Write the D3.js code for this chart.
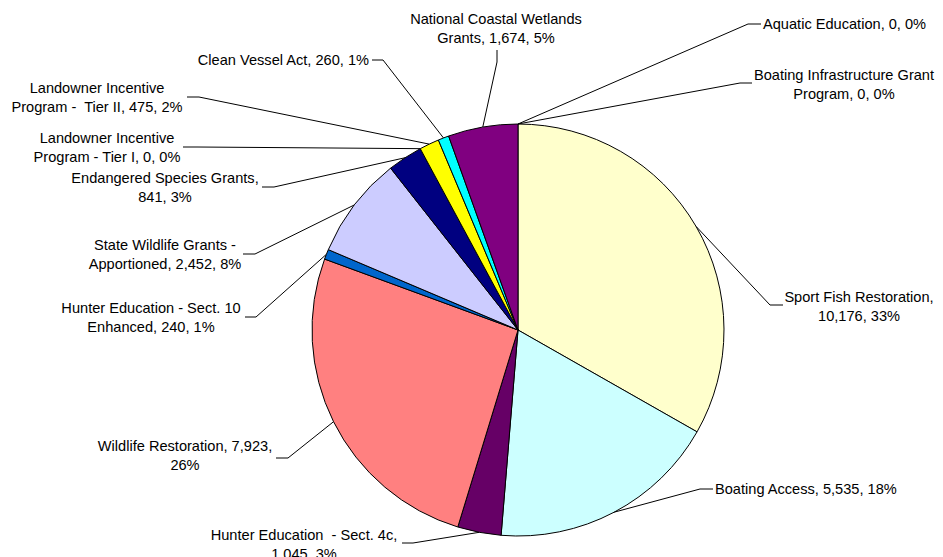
<!DOCTYPE html>
<html>
<head>
<meta charset="utf-8">
<script src="https://cdn.jsdelivr.net/npm/d3@7"></script>
<style>
	body { margin: 0; background: #fff; }
	text { font-family: Arial, "Liberation Sans", sans-serif; font-size: 14.6px; fill: #000; white-space: pre; }
</style>
</head>
<body>
<div id="chart"></div>
<script>
// programs, in drawing order (clockwise from 12 o'clock)
var programs = [
	"Sport Fish Restoration",
	"Boating Access",
	"Hunter Education  - Sect. 4c",
	"Wildlife Restoration",
	"Hunter Education - Sect. 10 Enhanced",
	"State Wildlife Grants - Apportioned",
	"Endangered Species Grants",
	"Landowner Incentive Program - Tier I",
	"Landowner Incentive Program -  Tier II",
	"Clean Vessel Act",
	"National Coastal Wetlands Grants",
	"Aquatic Education",
	"Boating Infrastructure Grant Program"
]
var amounts = [10176, 5535, 1045, 7923, 240, 2452, 841, 0, 475, 260, 1674, 0, 0]
var colors = ["#FFFFCC", "#CCFFFF", "#660066", "#FF8080", "#0066CC", "#CCCCFF",
	"#000080", "#FF00FF", "#FFFF00", "#00FFFF", "#800080", "#FFFFFF", "#FFFFFF"]

// label placement: text x,y (first line middle), anchor, words on first line,
// elbow of the leader line and its end next to the text
var labelLayout = [
	{ x: 859, y: 297, anchor: "middle", brk: 3, elbow: [770, 305], end: [783, 305] },
	{ x: 715, y: 489, anchor: "start", brk: 0, elbow: [700, 489], end: [713, 489] },
	{ x: 304, y: 535, anchor: "middle", brk: 6, elbow: [413, 543], end: [402, 543] },
	{ x: 185, y: 446, anchor: "middle", brk: 3, elbow: [288, 458], end: [276, 458] },
	{ x: 151, y: 308, anchor: "middle", brk: 5, elbow: [256, 317], end: [245, 317] },
	{ x: 165, y: 245, anchor: "middle", brk: 4, elbow: [255, 254], end: [243, 254] },
	{ x: 165, y: 178, anchor: "middle", brk: 3, elbow: [274, 187], end: [262, 187] },
	{ x: 107, y: 138, anchor: "middle", brk: 2, elbow: [197, 147], end: [183, 147] },
	{ x: 97, y: 88, anchor: "middle", brk: 2, elbow: [199, 97], end: [187, 97] },
	{ x: 369, y: 60, anchor: "end", brk: 0, elbow: [383, 60], end: [372, 60] },
	{ x: 496, y: 19, anchor: "middle", brk: 3, elbow: [497, 62], end: [497, 50] },
	{ x: 763, y: 24, anchor: "start", brk: 0, elbow: [748, 24], end: [761, 24] },
	{ x: 844, y: 75, anchor: "middle", brk: 3, elbow: [740, 83], end: [752, 83] }
]

var width = 943
var height = 557
var cx = 518, cy = 330, radius = 206
var lineHeight = 18.5

var svg = d3.select("#chart")
	.append("svg")
	.attr("width", width)
	.attr("height", height)

var total = d3.sum(amounts)
var fmt = d3.format(",")

var data = programs.map(function(p, i) {
	return { name: p, value: amounts[i], color: colors[i], layout: labelLayout[i] }
})

var pie = d3.pie()
	.sort(null)
	.value(function(d) { return d.value })

var arc = d3.arc()
	.innerRadius(0)
	.outerRadius(radius)

var edge = d3.arc()
	.innerRadius(radius)
	.outerRadius(radius)

var arcs = pie(data)

var g = svg.append("g")
	.attr("transform", "translate(" + cx + "," + cy + ")")

g.selectAll(".slice")
	.data(arcs.filter(function(d) { return d.data.value > 0 }))
	.enter().append("path")
	.attr("class", "slice")
	.attr("d", arc)
	.attr("fill", function(d) { return d.data.color })
	.attr("stroke", "#000")
	.attr("stroke-width", 1)
	.attr("stroke-linejoin", "round")

// leader lines
svg.selectAll(".leader")
	.data(arcs)
	.enter().append("polyline")
	.attr("class", "leader")
	.attr("fill", "none")
	.attr("stroke", "#000")
	.attr("stroke-width", 1)
	.attr("points", function(d) {
		var c = edge.centroid(d)
		var L = d.data.layout
		return [[cx + c[0], cy + c[1]], L.elbow, L.end].map(function(p) { return p.join(",") }).join(" ")
	})

// labels
var labels = svg.selectAll(".label")
	.data(arcs)
	.enter().append("text")
	.attr("class", "label")
	.attr("text-anchor", function(d) { return d.data.layout.anchor })

labels.each(function(d) {
	var L = d.data.layout
	var pct = Math.round(d.data.value / total * 100)
	var str = d.data.name + ", " + fmt(d.data.value) + ", " + pct + "%"
	var words = str.split(" ")
	var lines = L.brk ? [words.slice(0, L.brk).join(" "), words.slice(L.brk).join(" ")] : [str]
	var t = d3.select(this)
	lines.forEach(function(line, k) {
		t.append("tspan")
			.attr("x", L.x)
			.attr("y", L.y + k * lineHeight)
			.attr("dy", "0.35em")
			.text(line)
	})
})
</script>
</body>
</html>
